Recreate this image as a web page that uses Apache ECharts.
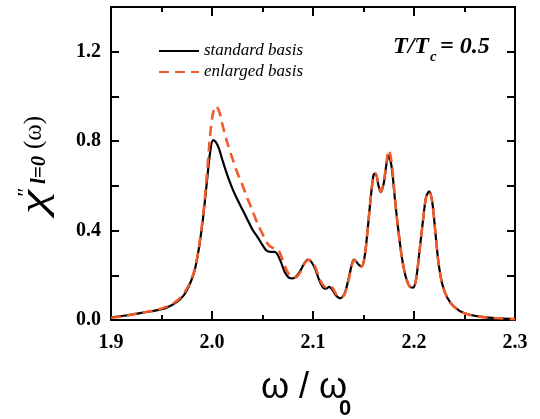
<!DOCTYPE html>
<html>
<head>
<meta charset="utf-8">
<script src="https://cdn.jsdelivr.net/npm/echarts@6/dist/echarts.min.js"></script>
<style>
  html, body { margin: 0; padding: 0; background: #fff; }
  #chart { width: 540px; height: 419px; }
</style>
</head>
<body>
<div id="chart"></div>
<script>
// omega / omega_0 sample points
var omega = [1.900, 1.915, 1.930, 1.945, 1.955, 1.965, 1.972, 1.978, 1.983, 1.987,
    1.991, 1.995, 1.998, 2.001, 2.004, 2.007, 2.010, 2.015, 2.020, 2.025,
    2.030, 2.035, 2.040, 2.045, 2.050, 2.054, 2.058, 2.062, 2.065, 2.068,
    2.072, 2.076, 2.080, 2.084, 2.088, 2.092, 2.095, 2.098, 2.102, 2.106,
    2.110, 2.113, 2.116, 2.119, 2.123, 2.127, 2.131, 2.135, 2.139, 2.141,
    2.145, 2.148, 2.151, 2.154, 2.157, 2.160, 2.162, 2.165, 2.167, 2.170,
    2.173, 2.175, 2.178, 2.181, 2.184, 2.188, 2.192, 2.196, 2.199, 2.202,
    2.205, 2.209, 2.212, 2.215, 2.218, 2.221, 2.224, 2.228, 2.233, 2.240,
    2.250, 2.265, 2.280, 2.300];

var standardBasis = [0.012, 0.020, 0.032, 0.043, 0.055, 0.080, 0.110, 0.160, 0.225, 0.320,
    0.450, 0.620, 0.745, 0.805, 0.795, 0.765, 0.720, 0.650, 0.590, 0.540,
    0.495, 0.450, 0.405, 0.372, 0.335, 0.310, 0.305, 0.305, 0.292, 0.262,
    0.215, 0.190, 0.186, 0.198, 0.225, 0.258, 0.270, 0.262, 0.230, 0.180,
    0.145, 0.140, 0.148, 0.136, 0.108, 0.097, 0.115, 0.180, 0.258, 0.270,
    0.248, 0.240, 0.280, 0.400, 0.540, 0.650, 0.655, 0.598, 0.572, 0.610,
    0.705, 0.735, 0.680, 0.545, 0.420, 0.280, 0.190, 0.148, 0.145, 0.180,
    0.290, 0.450, 0.550, 0.575, 0.530, 0.400, 0.265, 0.160, 0.100, 0.058,
    0.030, 0.015, 0.009, 0.004];

var enlargedBasis = [0.010, 0.019, 0.032, 0.045, 0.060, 0.085, 0.118, 0.165, 0.228, 0.325,
    0.460, 0.650, 0.820, 0.925, 0.957, 0.935, 0.880, 0.795, 0.725, 0.660,
    0.605, 0.545, 0.490, 0.432, 0.385, 0.348, 0.328, 0.320, 0.316, 0.292,
    0.242, 0.205, 0.190, 0.193, 0.218, 0.255, 0.268, 0.268, 0.240, 0.190,
    0.155, 0.146, 0.152, 0.146, 0.115, 0.100, 0.113, 0.175, 0.255, 0.268,
    0.248, 0.238, 0.278, 0.398, 0.540, 0.648, 0.655, 0.600, 0.575, 0.615,
    0.715, 0.760, 0.700, 0.550, 0.420, 0.280, 0.190, 0.148, 0.145, 0.180,
    0.290, 0.450, 0.550, 0.575, 0.530, 0.400, 0.265, 0.160, 0.100, 0.058,
    0.030, 0.015, 0.009, 0.004];

var seriesNames = ['standard basis', 'enlarged basis'];

function pairs(xs, ys) {
    return xs.map(function (x, i) { return [x, ys[i]]; });
}

var SERIF = '"Liberation Serif", "DejaVu Serif", serif';
var SANS = '"Liberation Sans", Arial, sans-serif';
var ORANGE = '#f15a29';

var myChart = echarts.init(document.getElementById('chart'));

var xBase = {
    type: 'value', min: 1.9, max: 2.3, interval: 0.1,
    axisLine: { onZero: false, lineStyle: { color: '#000', width: 2 } },
    axisTick: { inside: true, length: 9, lineStyle: { color: '#000', width: 2 } },
    minorTick: { show: true, splitNumber: 2, length: 5, lineStyle: { color: '#000', width: 2 } },
    splitLine: { show: false }
};
var yBase = {
    type: 'value', min: 0, max: 1.4, interval: 0.2,
    axisLine: { onZero: false, lineStyle: { color: '#000', width: 2 } },
    axisTick: { inside: true, length: 8, lineStyle: { color: '#000', width: 2 } },
    splitLine: { show: false }
};

var option = {
    backgroundColor: '#fff',
    animation: false,
    grid: { left: 111, right: 25, top: 7, bottom: 99 },
    xAxis: [
        Object.assign({}, xBase, {
            position: 'bottom',
            axisLabel: {
                margin: 13, color: '#000', fontFamily: SERIF, fontWeight: 'bold', fontSize: 20,
                formatter: function (v) { return v.toFixed(1); }
            }
        }),
        Object.assign({}, xBase, { position: 'top', axisLabel: { show: false } })
    ],
    yAxis: [
        Object.assign({}, yBase, {
            position: 'left',
            axisLabel: {
                margin: 10, color: '#000', fontFamily: SERIF, fontWeight: 'bold', fontSize: 20,
                formatter: function (v) {
                    var k = v / 0.4;
                    if (Math.abs(k - Math.round(k)) > 1e-6 || v > 1.3) return '';
                    return v.toFixed(1);
                }
            }
        }),
        Object.assign({}, yBase, { position: 'right', axisLabel: { show: false } })
    ],
    legend: {
        orient: 'vertical',
        left: 153, top: 37,
        itemWidth: 40, itemHeight: 14, itemGap: 3,
        itemStyle: { opacity: 0 },
        data: seriesNames,
        textStyle: { fontFamily: SERIF, fontStyle: 'italic', fontSize: 17, color: '#000', lineHeight: 18 }
    },
    series: [
        {
            name: seriesNames[0], type: 'line', showSymbol: false, symbol: 'none', smooth: 0.3,
            xAxisIndex: 0, yAxisIndex: 0,
            lineStyle: { color: '#000', width: 2.2 },
            itemStyle: { color: '#000' },
            data: pairs(omega, standardBasis)
        },
        {
            name: seriesNames[1], type: 'line', showSymbol: false, symbol: 'none', smooth: 0.3,
            xAxisIndex: 0, yAxisIndex: 0,
            lineStyle: { color: ORANGE, width: 2.6, type: [10, 6] },
            itemStyle: { color: ORANGE },
            data: pairs(omega, enlargedBasis)
        }
    ],
    graphic: [
        // T/Tc annotation
        { type: 'text', left: 393, top: 35, style: { text: 'T/T', fill: '#000', font: 'italic bold 24px ' + SERIF } },
        { type: 'text', left: 430, top: 50, style: { text: 'c', fill: '#000', font: 'italic bold 15px ' + SERIF } },
        { type: 'text', left: 440, top: 35, style: { text: '= 0.5', fill: '#000', font: 'italic bold 24px ' + SERIF } },
        // x axis name
        { type: 'text', left: 261, top: 370, style: { text: 'ω / ω', fill: '#000', font: '36px ' + SANS } },
        { type: 'text', left: 339, top: 398, style: { text: '0', fill: '#000', font: 'bold 22px ' + SANS } },
        // y axis name, rotated
        {
            type: 'group', x: 35, y: 167, rotation: Math.PI / 2,
            children: [
                { type: 'text', x: -47, y: 1, scaleX: 1.6, scaleY: 1.1, style: { text: 'χ', fill: '#000', font: 'italic 34px ' + SERIF, textVerticalAlign: 'middle' } },
                { type: 'text', x: -31, y: -9, style: { text: '″', fill: '#000', font: 'italic 22px ' + SERIF, textVerticalAlign: 'middle' } },
                { type: 'text', x: -17, y: 5, style: { text: 'l=0', fill: '#000', font: 'italic bold 21px ' + SERIF, textVerticalAlign: 'middle' } },
                { type: 'text', x: 18, y: -1, style: { text: '(ω)', fill: '#000', font: '25px ' + SERIF, textVerticalAlign: 'middle' } }
            ]
        }
    ]
};

myChart.setOption(option);
</script>
</body>
</html>
